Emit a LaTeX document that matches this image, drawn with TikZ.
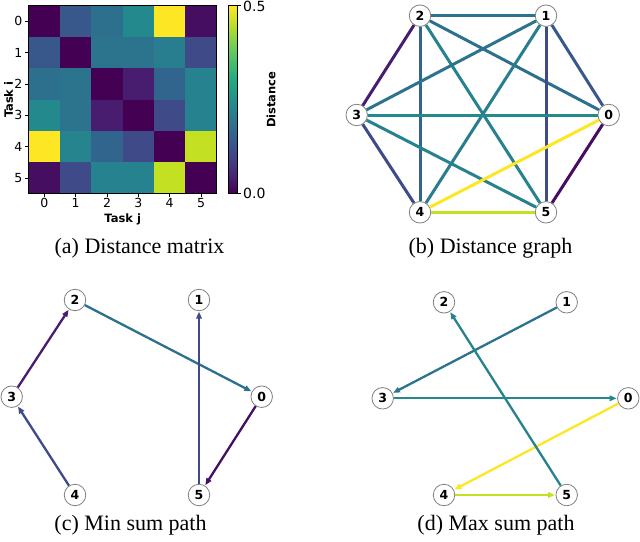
\documentclass[tikz,border=0pt]{standalone}
\usepackage{fontspec}
\setmainfont{Liberation Serif}
\newfontfamily\dvs{DejaVu Sans}
\usetikzlibrary{arrows.meta}
% viridis samples (normalised value)
\definecolor{vA}{RGB}{68,1,84}      % 0.00
\definecolor{vB}{RGB}{70,14,96}     % 0.04
\definecolor{vC}{RGB}{72,29,111}    % 0.08
\definecolor{vD}{RGB}{63,74,137}    % 0.22
\definecolor{vE}{RGB}{56,88,140}    % 0.28
\definecolor{vF}{RGB}{50,101,142}   % 0.33
\definecolor{vG}{RGB}{45,112,142}   % 0.37
\definecolor{vH}{RGB}{44,115,142}   % 0.38
\definecolor{vI}{RGB}{40,125,142}   % 0.42
\definecolor{vJ}{RGB}{38,130,142}   % 0.44
\definecolor{vK}{RGB}{37,132,142}   % 0.45
\definecolor{vL}{RGB}{35,137,141}   % 0.47
\definecolor{vM}{RGB}{196,224,35}   % 0.91
\definecolor{vN}{RGB}{253,231,37}   % 1.00
% colorbar anchors
\definecolor{w0}{RGB}{68,1,84}
\definecolor{w1}{RGB}{72,36,117}
\definecolor{w2}{RGB}{65,68,135}
\definecolor{w3}{RGB}{53,95,141}
\definecolor{w4}{RGB}{42,120,142}
\definecolor{w5}{RGB}{33,145,140}
\definecolor{w6}{RGB}{34,168,132}
\definecolor{w7}{RGB}{68,191,112}
\definecolor{w8}{RGB}{122,209,81}
\definecolor{w9}{RGB}{189,223,38}
\definecolor{w10}{RGB}{253,231,37}
\definecolor{nodegray}{RGB}{128,128,128}
\tikzset{
  gnode/.style={circle, fill=white, draw=nodegray, line width=0.8pt, minimum size=21.5pt, inner sep=0pt, font=\dvs\bfseries\fontsize{12.5}{13}\selectfont},
  gedge/.style={line width=3pt},
  pedge/.style={line width=2.3pt, -{Triangle[length=7pt,width=5.5pt]}, shorten >=0.5pt},
  tick/.style={line width=0.7pt},
  ticklab/.style={font=\dvs\fontsize{12.5}{13}\selectfont, inner sep=0pt},
  cbarlab/.style={font=\dvs\fontsize{14}{15}\selectfont, inner sep=0pt},
  axlab/.style={font=\dvs\bfseries\fontsize{11.5}{12}\selectfont, inner sep=0pt},
  caption/.style={font=\fontsize{22}{24}\selectfont, inner sep=0pt, anchor=base}
}
\begin{document}
\begin{tikzpicture}[x=1pt,y=-1pt]
\useasboundingbox (0,0) rectangle (640,541);
% ---------- (a) distance matrix ----------
\foreach \r/\row in {0/{vA,vE,vG,vL,vN,vB},1/{vE,vA,vH,vH,vI,vD},2/{vG,vH,vA,vC,vF,vJ},3/{vL,vH,vC,vA,vD,vJ},4/{vN,vK,vF,vD,vA,vM},5/{vB,vD,vJ,vJ,vM,vA}}{
  \foreach \col [count=\c from 0] in \row {
    \fill[\col] ({28.7+\c*31.333},{5.7+\r*31.333}) rectangle ++(31.333,31.333);
  }
}
\draw[line width=0.8pt] (28.7,5.7) rectangle (216.7,193.7);
\foreach \i in {0,...,5}{
  \draw[tick] (28.7,{21.37+\i*31.333}) -- ++(-3.5,0);
  \node[ticklab, anchor=east] (rl\i) at (22.5,{21.37+\i*31.333}) {\i};
  \draw[tick] ({44.37+\i*31.333},193.7) -- ++(0,3.5);
  \node[ticklab, anchor=north] (cl\i) at ({44.37+\i*31.333},198.5) {\i};
}
\node[axlab, rotate=90] (ti) at (8.5,99.7) {Task i};
\node[axlab] (tj) at (122.7,219) {Task j};
% colorbar
\foreach \k [evaluate=\k as \kk using int(\k+1)] in {0,...,9}{
  \shade[bottom color=w\k, top color=w\kk] (228.7,{193.7-(\k+1)*18.8}) rectangle (237.3,{193.7-\k*18.8});
}
\draw[line width=0.8pt] (228.7,5.7) rectangle (237.3,193.7);
\draw[tick] (237.3,5.7) -- ++(3.5,0);
\draw[tick] (237.3,193.7) -- ++(3.5,0);
\node[cbarlab, anchor=west] (cb5) at (243,6.5) {0.5};
\node[cbarlab, anchor=west] (cb0) at (243,193) {0.0};
\node[axlab, rotate=90] (dl) at (271,99.7) {Distance};
\node[caption] (capa) at (139.5,253) {(a) Distance matrix};
% ---------- (b) distance graph ----------
\node[gnode] (b2) at (420,15.7) {2};
\node[gnode] (b1) at (546,15.7) {1};
\node[gnode] (b3) at (356.7,115) {3};
\node[gnode] (b0) at (608.7,115) {0};
\node[gnode] (b4) at (420,212.3) {4};
\node[gnode] (b5) at (546,212.3) {5};
\draw[gedge, vH] (b2) -- (b1);
\draw[gedge, vG] (b2) -- (b0);
\draw[gedge, vJ] (b2) -- (b5);
\draw[gedge, vF] (b2) -- (b4);
\draw[gedge, vC] (b2) -- (b3);
\draw[gedge, vH] (b1) -- (b3);
\draw[gedge, vI] (b1) -- (b4);
\draw[gedge, vD] (b1) -- (b5);
\draw[gedge, vE] (b1) -- (b0);
\draw[gedge, vL] (b3) -- (b0);
\draw[gedge, vJ] (b3) -- (b5);
\draw[gedge, vD] (b3) -- (b4);
\draw[gedge, vN] (b0) -- (b4);
\draw[gedge, vB] (b0) -- (b5);
\draw[gedge, vM] (b4) -- (b5);
\node[caption] (capb) at (490.5,253) {(b) Distance graph};
% ---------- (c) min sum path ----------
\node[gnode] (c2) at (75,300) {2};
\node[gnode] (c1) at (199,300) {1};
\node[gnode] (c3) at (11.7,396.7) {3};
\node[gnode] (c0) at (261.7,396.7) {0};
\node[gnode] (c4) at (75,495) {4};
\node[gnode] (c5) at (199,495) {5};
\draw[pedge, vD] (c4) -- (c3);
\draw[pedge, vC] (c3) -- (c2);
\draw[pedge, vG] (c2) -- (c0);
\draw[pedge, vB] (c0) -- (c5);
\draw[pedge, vD] (c5) -- (c1);
\node[caption] (capc) at (130.5,530) {(c) Min sum path};
% ---------- (d) max sum path ----------
\node[gnode] (d2) at (444,302.3) {2};
\node[gnode] (d1) at (566.7,302.3) {1};
\node[gnode] (d3) at (382.7,398.3) {3};
\node[gnode] (d0) at (628.3,398.3) {0};
\node[gnode] (d4) at (444,495) {4};
\node[gnode] (d5) at (566.7,495) {5};
\draw[pedge, vH] (d1) -- (d3);
\draw[pedge, vL] (d3) -- (d0);
\draw[pedge, vN] (d0) -- (d4);
\draw[pedge, vM] (d4) -- (d5);
\draw[pedge, vJ] (d5) -- (d2);
\node[caption] (capd) at (496,530) {(d) Max sum path};
\end{tikzpicture}
\end{document}
